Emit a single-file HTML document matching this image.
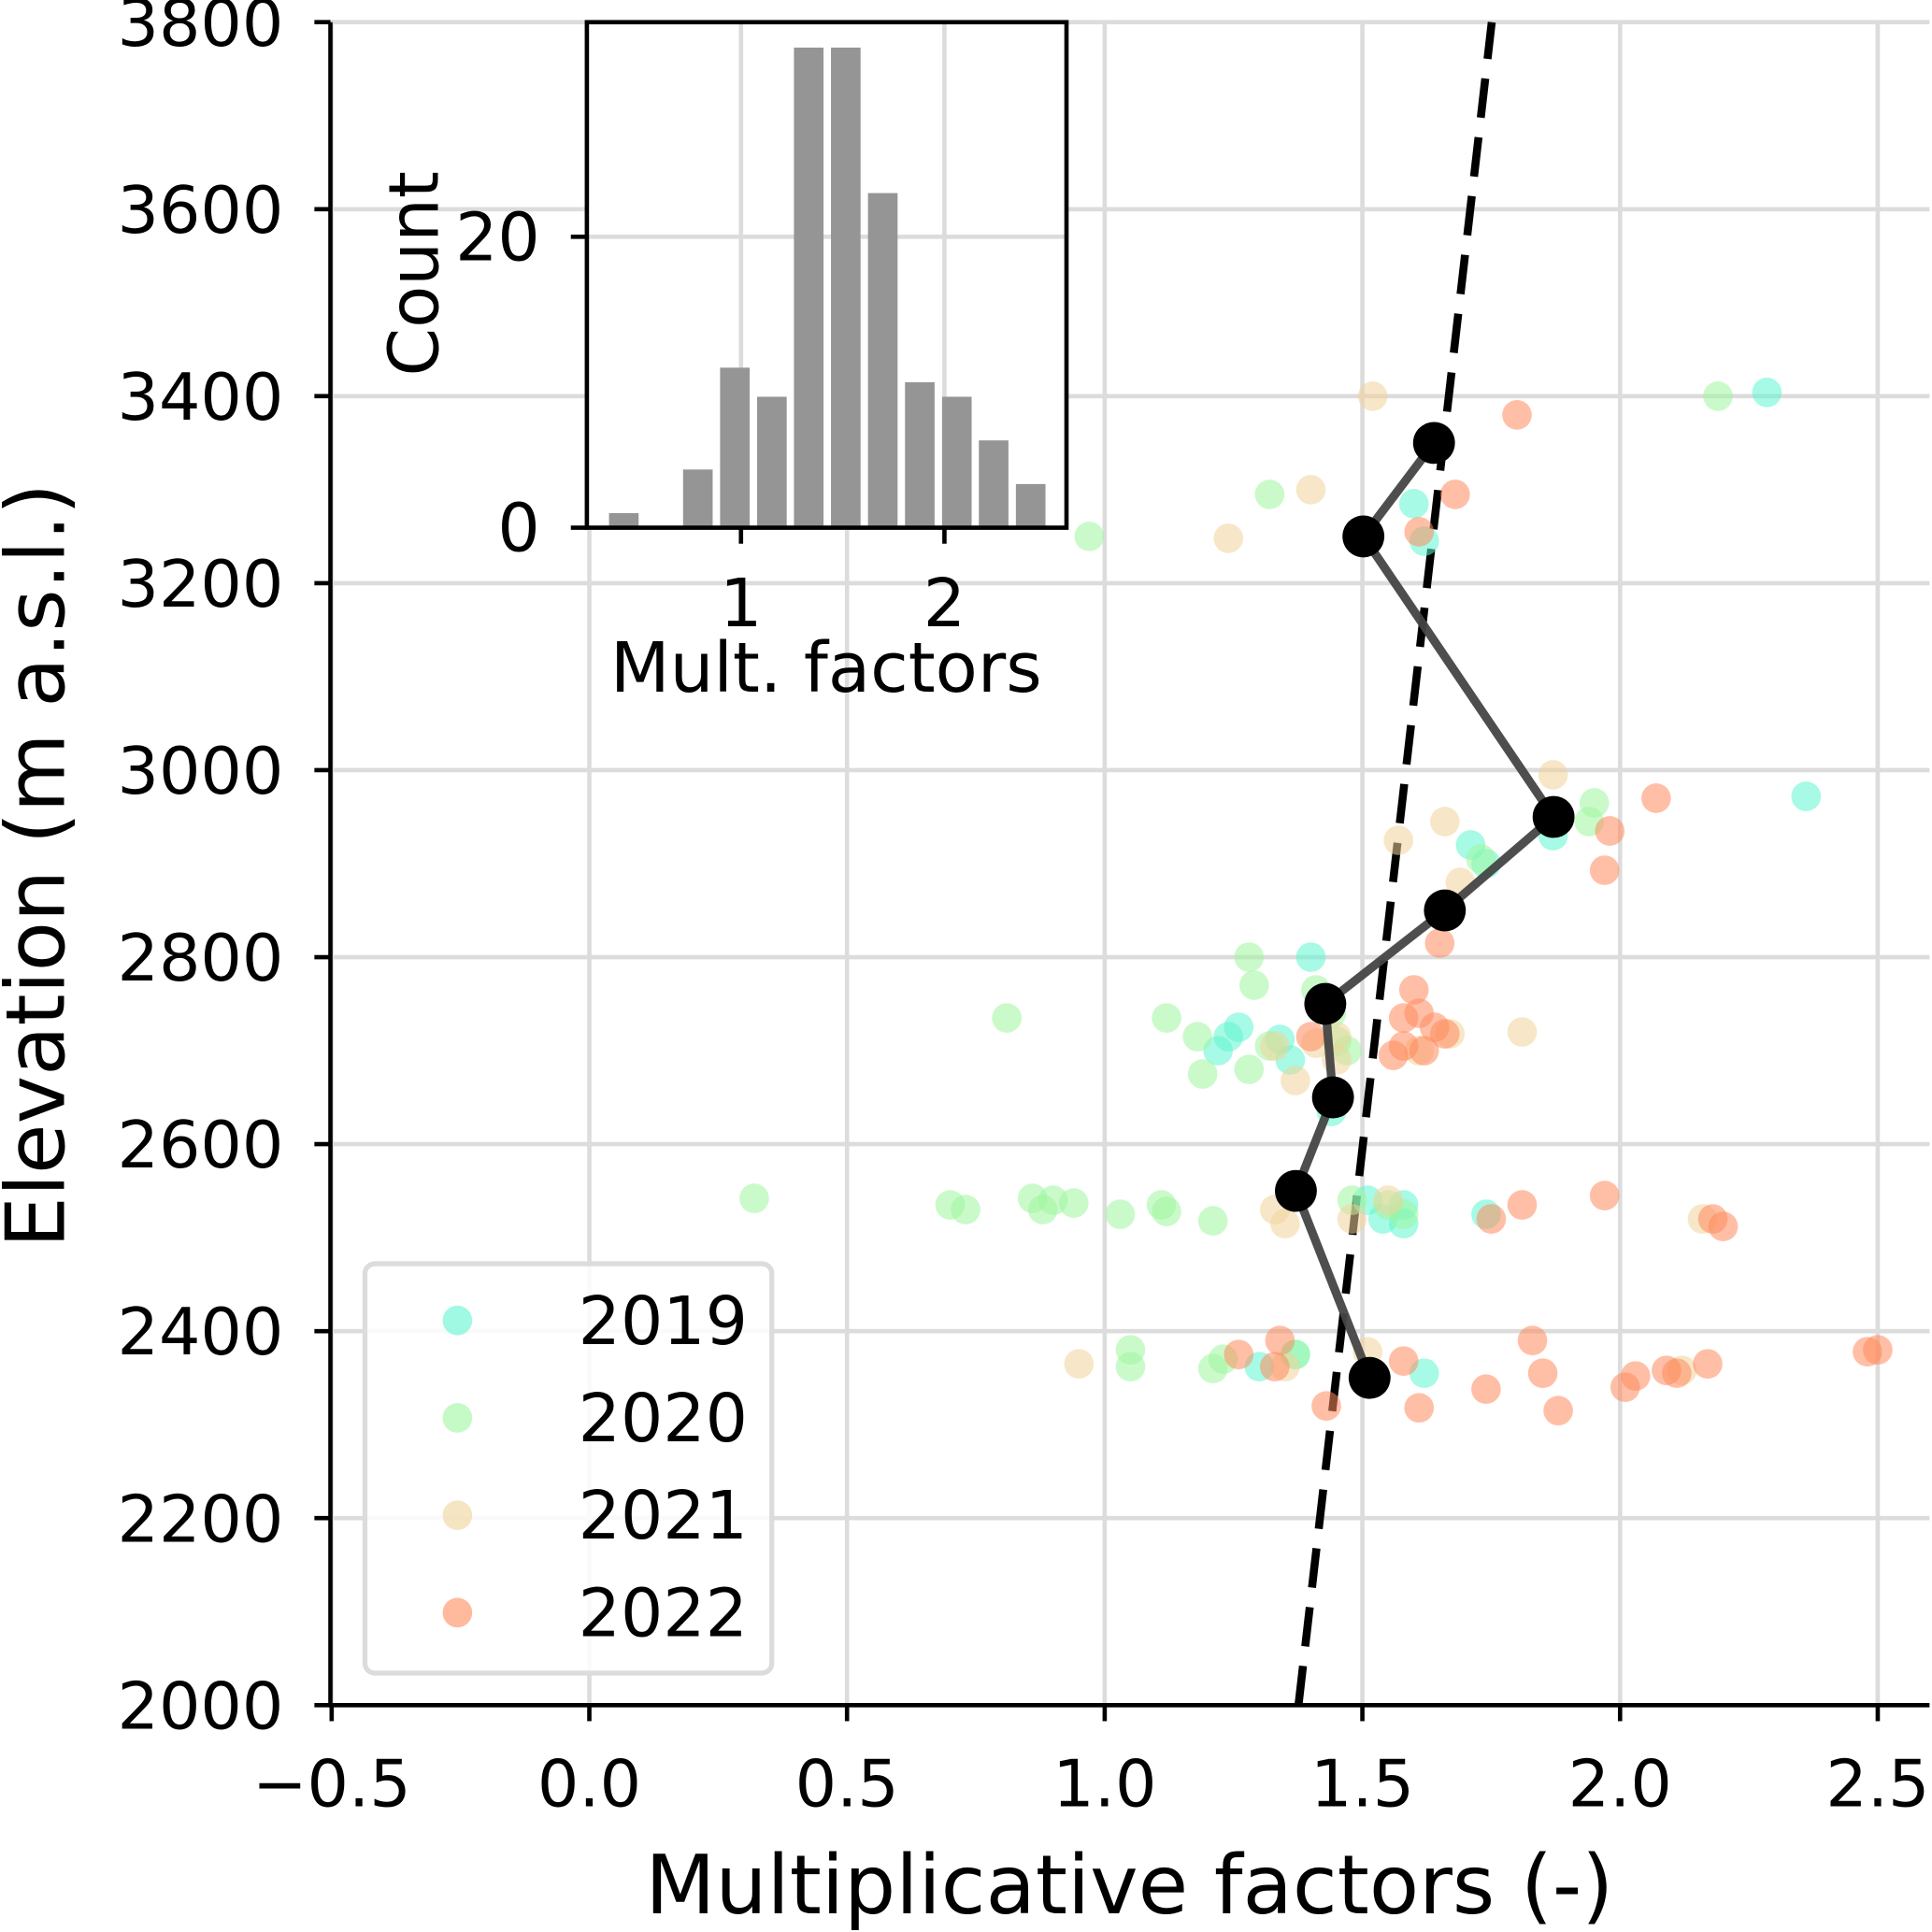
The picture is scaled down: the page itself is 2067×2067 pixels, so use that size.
<!DOCTYPE html>
<html><head><meta charset="utf-8"><style>
html,body{margin:0;padding:0;background:#fff}
svg{display:block;font-family:"DejaVu Sans","Liberation Sans",sans-serif}
</style></head><body>
<svg id="chart" width="2067" height="2067" viewBox="0 0 1567 1567" xmlns="http://www.w3.org/2000/svg">
<g id="main"></g>
<g id="inset"></g>
<g id="legend"></g>
</svg>
<script>
const xTicks=[-0.5,0,0.5,1,1.5,2,2.5];
const xTickLabels=["\u22120.5","0.0","0.5","1.0","1.5","2.0","2.5"];
const yTicks=[2000,2200,2400,2600,2800,3000,3200,3400,3600,3800];
const years=["2019","2020","2021","2022"];
const yearColors=["#5ff5d0","#9ef59e","#f0d49a","#ff8a5c"];
const pts2019=[[2.285,3404],[2.361,2972],[1.60,3285],[1.62,3245],[1.71,2920],[1.74,2900],[1.87,2930],[1.40,2800],[1.26,2725],[1.22,2700],[1.34,2712],[1.36,2690],[1.44,2635],[1.51,2540],[1.54,2520],[1.58,2535],[1.58,2515],[1.74,2525],[1.62,2355],[1.30,2362],[1.37,2375],[1.24,2715]];
const pts2020=[[2.19,3400],[0.97,3250],[1.32,3295],[1.95,2965],[1.94,2945],[1.73,2905],[1.28,2800],[1.29,2770],[1.41,2765],[0.81,2735],[1.12,2735],[1.18,2715],[1.19,2675],[1.28,2680],[1.32,2705],[1.45,2710],[1.44,2740],[1.47,2700],[0.32,2542],[0.70,2535],[0.73,2530],[0.86,2542],[0.88,2530],[0.90,2540],[0.94,2537],[1.03,2525],[1.11,2535],[1.12,2528],[1.21,2518],[1.48,2540],[1.05,2380],[1.05,2362],[1.21,2360],[1.23,2370],[1.37,2375],[1.58,2525],[1.55,2535]];
const pts2021=[[1.52,3400],[1.40,3300],[1.24,3248],[1.87,2995],[1.66,2945],[1.57,2925],[1.69,2880],[1.81,2720],[1.67,2718],[1.33,2705],[1.37,2668],[1.41,2708],[1.45,2690],[1.61,2700],[1.33,2530],[1.35,2515],[1.48,2520],[1.55,2540],[2.16,2520],[2.12,2358],[0.95,2365],[1.35,2362],[1.51,2378],[1.45,2715]];
const pts2022=[[1.80,3380],[1.68,3295],[1.61,3255],[2.07,2970],[1.98,2935],[1.97,2893],[1.65,2815],[1.60,2765],[1.58,2735],[1.61,2740],[1.64,2725],[1.66,2718],[1.62,2700],[1.56,2695],[1.58,2705],[1.40,2715],[1.97,2545],[1.81,2535],[1.75,2520],[2.18,2520],[2.20,2512],[2.48,2378],[2.50,2380],[2.17,2365],[2.11,2355],[2.09,2358],[2.03,2352],[2.01,2340],[1.83,2390],[1.85,2355],[1.88,2315],[1.74,2338],[1.61,2318],[1.58,2368],[1.43,2320],[1.34,2390],[1.33,2362],[1.26,2375]];
const meanX=[1.639,1.502,1.871,1.660,1.428,1.443,1.371,1.514];
const meanY=[3350,3250,2950,2850,2750,2650,2550,2350];
const fitX=[1.376,1.751];
const fitY=[2000,3800];
const binCenters=[0.424,0.606,0.788,0.970,1.152,1.333,1.515,1.697,1.879,2.061,2.242,2.424,2.606];
const binCounts=[1,0,4,11,9,33,33,23,10,9,6,3,0];
const insetXTicks=[1,2];
const insetYTicks=[0,20];

const NS="http://www.w3.org/2000/svg";
function mk(tag,attrs,parent){const e=document.createElementNS(NS,tag);for(const k in attrs)e.setAttribute(k,attrs[k]);parent.appendChild(e);return e;}
const X=v=>478+(v-0)*418;
const Y=v=>1383-(v-2000)*(1365/1800);
const main=document.getElementById('main');
xTicks.forEach(t=>{const l=mk('line',{x1:X(t),x2:X(t),y1:18,y2:1383,stroke:'#dcdcdc','stroke-width':3.5},main);

});
yTicks.forEach(t=>{const l=mk('line',{x1:268,x2:1565,y1:Y(t),y2:Y(t),stroke:'#dcdcdc','stroke-width':3.5},main);

});
const fl=mk('line',{x1:X(fitX[0]),y1:Y(fitY[0]),x2:X(fitX[1]),y2:Y(fitY[1]),stroke:'#000','stroke-width':6.5,'stroke-dasharray':'32 16'},main);


[pts2019,pts2020,pts2021,pts2022].forEach((arr,i)=>{arr.forEach(p=>{const c=mk('circle',{cx:X(p[0]),cy:Y(p[1]),r:12,fill:yearColors[i],'fill-opacity':0.55},main);

});});
const pl=mk('polyline',{points:meanX.map((x,i)=>X(x)+','+Y(meanY[i])).join(' '),fill:'none',stroke:'#444','stroke-width':7,'stroke-opacity':0.95},main);


meanX.forEach((x,i)=>{const c=mk('circle',{cx:X(x),cy:Y(meanY[i]),r:17,fill:'#000'},main);

});
const ax=mk('path',{d:'M268,18 V1383 H1565',fill:'none',stroke:'#000','stroke-width':3.5},main);


xTicks.forEach((t,i)=>{mk('line',{x1:X(t),x2:X(t),y1:1383,y2:1396,stroke:'#000','stroke-width':3.5},main);
const tx=mk('text',{x:X(t),y:1465,'font-size':53,'text-anchor':'middle'},main);tx.textContent=xTickLabels[i];

});
yTicks.forEach(t=>{mk('line',{x1:255,x2:268,y1:Y(t),y2:Y(t),stroke:'#000','stroke-width':3.5},main);
const tx=mk('text',{x:230,y:Y(t)+19,'font-size':53,'text-anchor':'end'},main);tx.textContent=t;

});
const xt=mk('text',{x:916,y:1552,'font-size':66,'text-anchor':'middle'},main);xt.textContent='Multiplicative factors (-)';


const yt=mk('text',{x:0,y:0,'font-size':66,'text-anchor':'middle',transform:'translate(52,702) rotate(-90)'},main);yt.textContent='Elevation (m a.s.l.)';


const ins=document.getElementById('inset');
const IX=v=>601+(v-1)*165;
const IY=v=>428-v*11.8;
const bg=mk('rect',{x:476,y:18,width:389,height:410,fill:'#fff'},ins);


insetXTicks.forEach(t=>{mk('line',{x1:IX(t),x2:IX(t),y1:18,y2:428,stroke:'#dcdcdc','stroke-width':3.5},ins);});
insetYTicks.forEach(t=>{mk('line',{x1:476,x2:865,y1:IY(t),y2:IY(t),stroke:'#dcdcdc','stroke-width':3.5},ins);});
binCenters.forEach((c,i)=>{const h=binCounts[i]*11.8;const r=mk('rect',{x:IX(c)-12,y:428-h,width:24,height:h,fill:'#959595'},ins);

});
const ib=mk('rect',{x:476,y:18,width:389,height:410,fill:'none',stroke:'#000','stroke-width':3.5},ins);


insetXTicks.forEach(t=>{mk('line',{x1:IX(t),x2:IX(t),y1:428,y2:441,stroke:'#000','stroke-width':3.5},ins);
const tx=mk('text',{x:IX(t),y:508,'font-size':54,'text-anchor':'middle'},ins);tx.textContent=t;

});
insetYTicks.forEach(t=>{mk('line',{x1:463,x2:476,y1:IY(t),y2:IY(t),stroke:'#000','stroke-width':3.5},ins);
const tx=mk('text',{x:438,y:IY(t)+19,'font-size':54,'text-anchor':'end'},ins);tx.textContent=t;

});
const ixt=mk('text',{x:670,y:561,'font-size':56,'text-anchor':'middle'},ins);ixt.textContent='Mult. factors';


const iyt=mk('text',{x:0,y:0,'font-size':56,'text-anchor':'middle',transform:'translate(355,222) rotate(-90)'},ins);iyt.textContent='Count';


const lg=document.getElementById('legend');
const lb=mk('rect',{x:296,y:1025,width:330,height:332,rx:8,fill:'#fff','fill-opacity':0.85,stroke:'#dcdcdc','stroke-width':4},lg);


years.forEach((yr,i)=>{const cy=1071+i*79;
const c=mk('circle',{cx:371,cy:cy,r:12,fill:yearColors[i],'fill-opacity':0.6},lg);


const tx=mk('text',{x:469,y:cy+19,'font-size':54},lg);tx.textContent=yr;

});
</script>
</body></html>
